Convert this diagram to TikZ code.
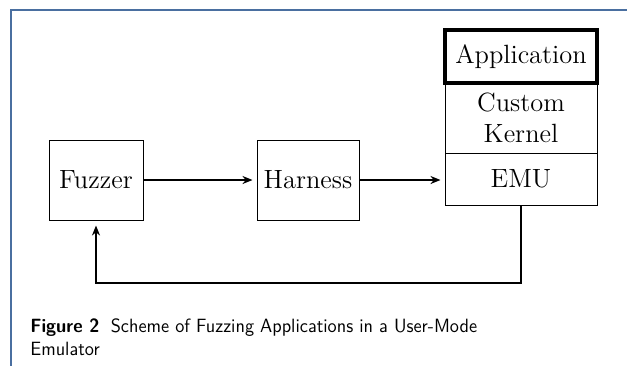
\documentclass[tikz,border=0pt]{standalone}
\usepackage{fontspec}
\setsansfont{Latin Modern Sans}[FakeStretch=0.95]
\usetikzlibrary{arrows.meta}
\definecolor{framecol}{HTML}{4A6FA0}
\begin{document}
\begin{tikzpicture}[x=0.5pt,y=-0.5pt,
  block/.style={draw, line width=0.5pt, inner sep=0pt, align=center,
    font=\fontsize{13.2}{15.5}\selectfont},
  flow/.style={line width=0.9pt, -{Stealth[length=5pt,width=4pt]}, shorten >=2pt},
  caption/.style={anchor=north west, inner sep=0pt, align=left,
    font=\sffamily\fontsize{9.6}{11.5}\selectfont}]
  \useasboundingbox (0,0) rectangle (627,366);
  % page frame
  \draw[framecol, line width=0.75pt] (627,10) -- (11,10) -- (11,366);
  % nodes
  \node[block, minimum width=47pt, minimum height=40pt] (fuzzer) at (96,180) {Fuzzer};
  \node[block, minimum width=51pt, minimum height=40pt] (harness) at (308,180) {Harness};
  \node[block, minimum width=76pt, minimum height=26pt] (emu) at (521,179) {EMU};
  \node[block, minimum width=76pt, minimum height=35pt] (kernel) at (521,118) {Custom\\Kernel};
  \node[block, line width=1.7pt, minimum width=76pt, minimum height=26.5pt] (app) at (521,56.5) {Application};
  % connectors
  \draw[flow] (fuzzer) -- (harness);
  \draw[flow] (harness.east) -- (harness.east -| emu.west);
  \coordinate (c1) at (521,283);
  \coordinate (c2) at (96,283);
  \draw[flow, shorten >=2.5pt] (emu.south) -- (c1) -- (c2) -- (fuzzer.south);
  % caption
  \node[caption] (cap) at (30,318) {\textbf{Figure 2}\hspace{0.6em}Scheme of Fuzzing Applications in a User-Mode\\Emulator};
\end{tikzpicture}
\end{document}
